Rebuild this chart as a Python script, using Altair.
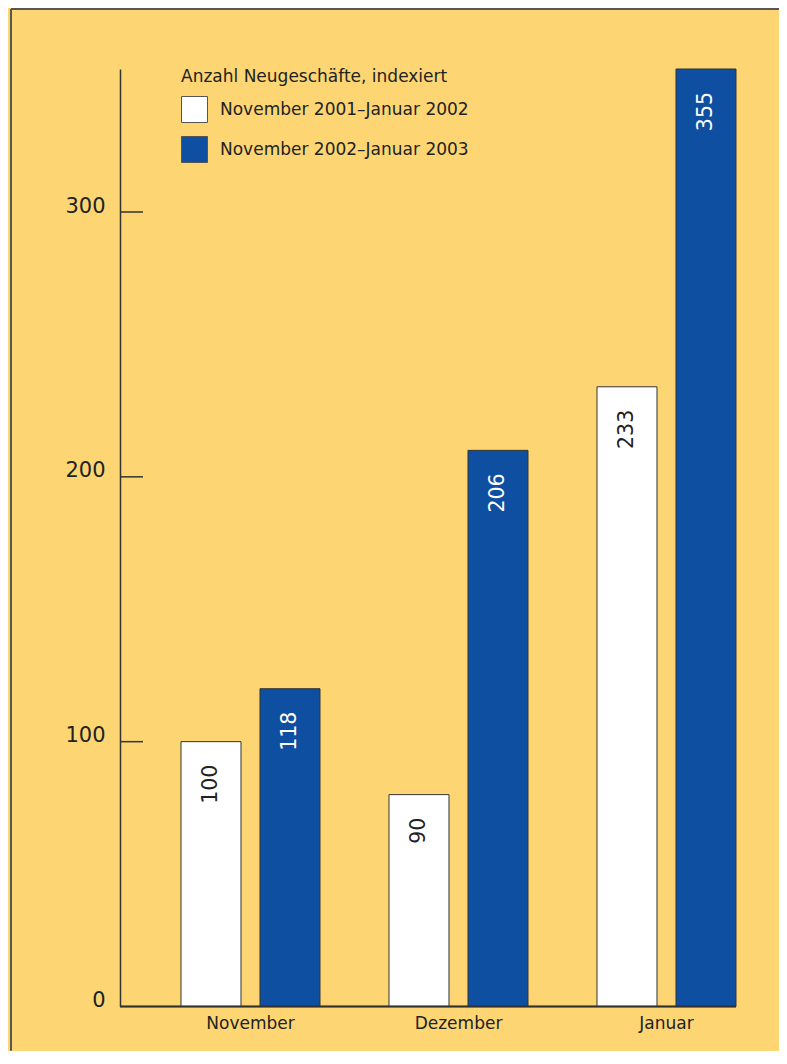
import altair as alt
import pandas as pd

months = ["November", "Dezember", "Januar"]
series = ["November 2001–Januar 2002", "November 2002–Januar 2003"]
heights_0102 = [100, 80, 234]
heights_0203 = [120, 210, 354]
# value labels as printed in the bars
labels_0102 = ["100", "90", "233"]
labels_0203 = ["118", "206", "355"]
y_ticks = [100, 200, 300]
y_labels = [0, 100, 200, 300]
colors = ["#FFFFFF", "#0E4FA1"]

rows = []
for i, m in enumerate(months):
    rows.append({"month": m, "series": series[0], "value": heights_0102[i], "label": labels_0102[i]})
    rows.append({"month": m, "series": series[1], "value": heights_0203[i], "label": labels_0203[i]})
df = pd.DataFrame(rows)
ticks_df = pd.DataFrame({"v": y_ticks})

FONT = "DejaVu Sans"
INK = "#222222"
LINE = "#333333"

W, H = 655, 937.5
PAD = {"left": 112, "top": 61, "right": 4, "bottom": 44}

x_enc = alt.X("month:N", sort=months,
              scale=alt.Scale(domain=months, paddingInner=0, paddingOuter=0.07452, align=0.8548),
              axis=alt.Axis(title=None, domain=False, ticks=False, labelAngle=0,
                            labelFont=FONT, labelFontSize=17, labelColor=INK,
                            labelPadding=9, labelBaseline="top"))
xo_enc = alt.XOffset("series:N", sort=series,
                     scale=alt.Scale(domain=series, paddingInner=0.2405, paddingOuter=0.4367))
y_enc = alt.Y("value:Q",
              scale=alt.Scale(domain=[0, 354], nice=False),
              axis=alt.Axis(title=None, values=y_labels, ticks=False, grid=False,
                            domainColor=LINE, domainWidth=1.5,
                            labelFont=FONT, labelFontSize=21, labelColor=INK,
                            labelPadding=15, labelBaseline="alphabetic"))

bars = alt.Chart(df).mark_bar(stroke=LINE, strokeWidth=1).encode(
    x=x_enc,
    xOffset=xo_enc,
    y=y_enc,
    color=alt.Color("series:N", sort=series,
                    scale=alt.Scale(domain=series, range=colors),
                    legend=alt.Legend(
                        title="Anzahl Neugeschäfte, indexiert",
                        orient="none", legendX=61, legendY=0,
                        titleFont=FONT, titleFontSize=17, titleFontWeight="normal",
                        titleColor=INK, titlePadding=10, titleLimit=0,
                        labelFont=FONT, labelFontSize=17, labelColor=INK,
                        labelOffset=12, rowPadding=9, labelLimit=0,
                        symbolType="square", symbolSize=676,
                        symbolStrokeColor="#555555", symbolStrokeWidth=1,
                        symbolOpacity=1)),
)

texts = alt.Chart(df).mark_text(angle=270, align="right", baseline="middle",
                                dx=-23, font=FONT, fontSize=20.5).encode(
    x=alt.X("month:N", sort=months),
    xOffset=alt.XOffset("series:N", sort=series),
    y=alt.Y("value:Q"),
    text="label:N",
    color=alt.condition(alt.datum.series == series[0], alt.value(INK), alt.value("#FFFFFF")),
)

tick_rules = alt.Chart(ticks_df).mark_rule(color=LINE, strokeWidth=1.5).encode(
    y=alt.Y("v:Q"),
    x=alt.value(0),
    x2=alt.value(23),
)

baseline = alt.Chart(ticks_df).mark_rule(color=LINE, strokeWidth=1.5).encode(
    y=alt.datum(0),
    x=alt.value(0),
    x2=alt.value(616),
)

border_left = alt.Chart(ticks_df).mark_rule(color="#555555", strokeWidth=1.5).encode(
    x=alt.value(-109), y=alt.value(-60), y2=alt.value(H + PAD["bottom"]),
)
border_top = alt.Chart(ticks_df).mark_rule(color="#555555", strokeWidth=1.5).encode(
    y=alt.value(-60), x=alt.value(-109), x2=alt.value(W + PAD["right"]),
)

chart = alt.layer(bars, texts, tick_rules, baseline, border_left, border_top).properties(
    width=W, height=H,
    autosize=alt.AutoSizeParams(type="none"),
    padding=PAD,
    background="#FDD673",
).configure_view(stroke=None)

chart.save("out.html", embed_options={"renderer": "svg", "actions": False})
